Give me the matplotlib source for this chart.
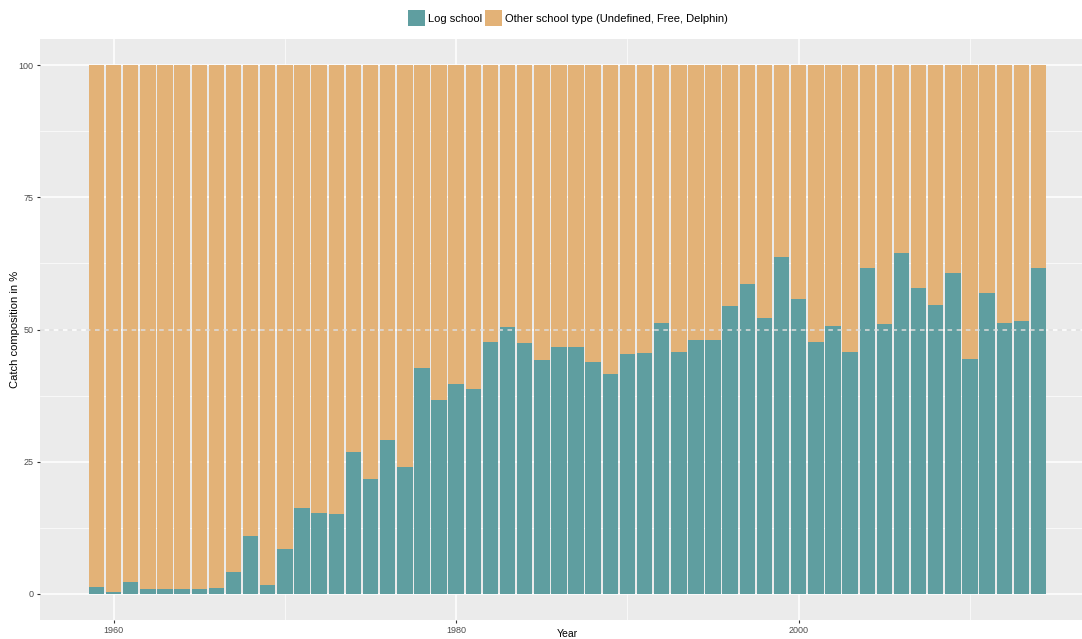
import matplotlib
matplotlib.use("Agg")
import matplotlib.pyplot as plt
from matplotlib.patches import Patch

plt.rcParams["font.family"] = ["Liberation Sans", "DejaVu Sans"]

years = list(range(1959, 2015))
log_school = [
    1.3, 0.3, 2.1, 0.9, 0.8, 0.8, 0.8, 1.1, 4.0, 10.9,
    1.6, 8.4, 16.2, 15.2, 15.1, 26.9, 21.7, 29.0, 23.9, 42.8,
    36.6, 39.6, 38.8, 47.6, 50.4, 47.5, 44.3, 46.6, 46.6, 43.9,
    41.5, 45.4, 45.5, 51.2, 45.7, 48.0, 48.0, 54.5, 58.6, 52.1,
    63.7, 55.8, 47.7, 50.6, 45.7, 61.7, 51.1, 64.4, 57.8, 54.6,
    60.7, 44.4, 56.9, 51.3, 51.6, 61.7,
]
other_school = [100 - v for v in log_school]

teal = "#5F9EA0"
sand = "#E3B277"

W, H = 1082, 639
fig = plt.figure(figsize=(W / 100, H / 100), dpi=100)
# panel runs past the right edge, like the cropped original
ax = fig.add_axes([40 / W, (H - 620) / H, (1095 - 40) / W, (620 - 39) / H])
ax.set_facecolor("#EBEBEB")

ax.bar(years, log_school, width=0.9, color=teal, zorder=2)
ax.bar(years, other_school, width=0.9, bottom=log_school, color=sand, zorder=2)
ax.axhline(50, color="#DDDDDD", ls=(0, (3, 3)), lw=1.1, zorder=3)

ax.set_xlim(1955.7, 2017.3)
ax.set_ylim(-5, 105)
ax.set_xticks([1960, 1980, 2000])
ax.set_xticks([1970, 1990, 2010], minor=True)
ax.set_yticks([0, 25, 50, 75, 100])
ax.set_yticks([12.5, 37.5, 62.5, 87.5], minor=True)
ax.grid(True, which="major", color="white", lw=1.1, zorder=0)
ax.grid(True, which="minor", color="white", lw=0.5, zorder=0)
ax.set_axisbelow(True)
for s in ax.spines.values():
    s.set_visible(False)
ax.tick_params(which="major", length=2.5, color="#333333", labelsize=6.5,
               labelcolor="#4D4D4D", pad=2)
ax.tick_params(which="minor", length=0)

ax.set_ylabel("Catch composition in %", fontsize=8, va="center")
ax.yaxis.set_label_coords(-25 / 1055, 0.5)
ax.set_xlabel("Year", fontsize=7.5, va="top")
ax.xaxis.set_label_coords((567 - 40) / 1055, -9 / 581)

handles = [Patch(facecolor=teal, edgecolor="none", label="Log school"),
           Patch(facecolor=sand, edgecolor="none",
                 label="Other school type (Undefined, Free, Delphin)")]
fig.legend(handles=handles, loc="center", bbox_to_anchor=(0.525, 1 - 18 / H),
           ncol=2, frameon=False, fontsize=8, handlelength=1.5, handleheight=1.8,
           handletextpad=0.3, columnspacing=0.3)

fig.savefig("out.png", dpi=100)
